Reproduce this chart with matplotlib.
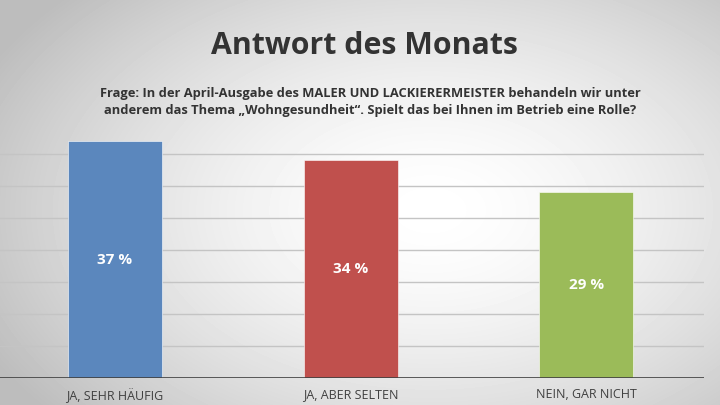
import matplotlib.pyplot as plt
import numpy as np

plt.rcParams['font.family'] = ['Open Sans', 'DejaVu Sans']

categories = ["JA, SEHR HÄUFIG", "JA, ABER SELTEN", "NEIN, GAR NICHT"]
values = [37, 34, 29]
colors = ["#5b87bd", "#c0504d", "#9bbb59"]

title = "Antwort des Monats"
question = ("Frage: In der April-Ausgabe des MALER UND LACKIERERMEISTER behandeln wir unter\n"
            "anderem das Thema \u201eWohngesundheit\u201c. Spielt das bei Ihnen im Betrieb eine Rolle?")

fig = plt.figure(figsize=(7.2, 4.05), dpi=100)

# radial gradient background
bg = fig.add_axes([0, 0, 1, 1])
yy, xx = np.mgrid[0:405, 0:720]
d = np.sqrt(((xx - 430) / 520.0) ** 2 + ((yy - 210) / 330.0) ** 2)
shade = np.clip(1.0 - 0.28 * d ** 1.6, 0.74, 1.0)
bg.imshow(shade, cmap="gray", vmin=0, vmax=1, aspect="auto", extent=[0, 1, 0, 1])
bg.axis("off")

ax = fig.add_axes([-0.004, 1 - 378 / 405, 0.982, 256 / 405])
ax.patch.set_alpha(0)
x = np.arange(len(categories))
bars = ax.bar(x, values, width=0.4, color=colors, edgecolor="white", linewidth=0.4, zorder=3)
for xi, v in zip(x, values):
    ax.text(xi, v / 2, f"{v} %", ha="center", va="center", color="white",
            fontsize=11, fontweight="bold", zorder=4)

ax.set_xlim(-0.5, 2.5)
ax.set_ylim(0, 40)
for g in range(5, 40, 5):
    ax.axhline(g, color="#c4c4c4", linewidth=1.0, zorder=1)
ax.axhline(0, color="#404040", linewidth=1.2, zorder=5)
for s in ax.spines.values():
    s.set_visible(False)
ax.set_yticks([])
ax.set_xticks(x)
ax.set_xticklabels(categories, fontsize=9, color="#404040")
ax.tick_params(axis="x", length=0, pad=7)

fig.text(0.506, 1 - 46 / 405, title, ha="center", va="center", fontsize=21.8,
         fontweight="bold", color="#333333")
fig.text(0.514, 1 - 102 / 405, question, ha="center", va="center", fontsize=9.3,
         fontweight="bold", color="#333333", linespacing=1.45)

fig.savefig("out.png", dpi=100)
